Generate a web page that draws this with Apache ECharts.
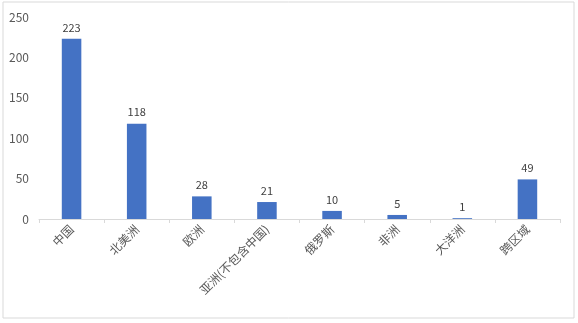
<!DOCTYPE html>
<html><head><meta charset="utf-8">
<script src="https://cdn.jsdelivr.net/npm/echarts@6/dist/echarts.min.js"></script>
<style>html,body{margin:0;padding:0;background:#fff}#c{width:578px;height:323px}</style>
</head><body><div id="c"></div>
<script>
const categories = ['中国','北美洲','欧洲','亚洲(不包含中国)','俄罗斯','非洲','大洋洲','跨区域'];
const values = [223,118,28,21,10,5,1,49];
const yTicks = [0,50,100,150,200,250];

const chart = echarts.init(document.getElementById('c'), null, {renderer:'canvas'});
chart.setOption({
  animation:false,
  backgroundColor:'#fff',
  graphic:[{type:'rect',shape:{x:3,y:2,width:571,height:316},style:{fill:'none',stroke:'#d9d9d9',lineWidth:1},silent:true}],
  grid:{left:39,right:18,top:17,bottom:104},
  xAxis:{type:'category',data:categories,
    axisLine:{lineStyle:{color:'#d9d9d9'}},
    axisTick:{show:true,alignWithLabel:false,length:4,lineStyle:{color:'#d9d9d9'}},
    axisLabel:{rotate:45,color:'#595959',fontSize:12,fontFamily:'Noto Sans CJK SC',margin:8}},
  yAxis:{type:'value',min:yTicks[0],max:yTicks[yTicks.length-1],interval:50,
    splitLine:{show:false},axisLine:{show:false},axisTick:{show:false},
    axisLabel:{color:'#595959',fontSize:12,fontFamily:'Noto Sans CJK SC',margin:10}},
  series:[{type:'bar',data:values,barWidth:'30%',itemStyle:{color:'#4472C4'},
    label:{show:true,position:'top',color:'#404040',fontSize:11,fontFamily:'Noto Sans CJK SC',distance:6}}]
});
</script></body></html>
